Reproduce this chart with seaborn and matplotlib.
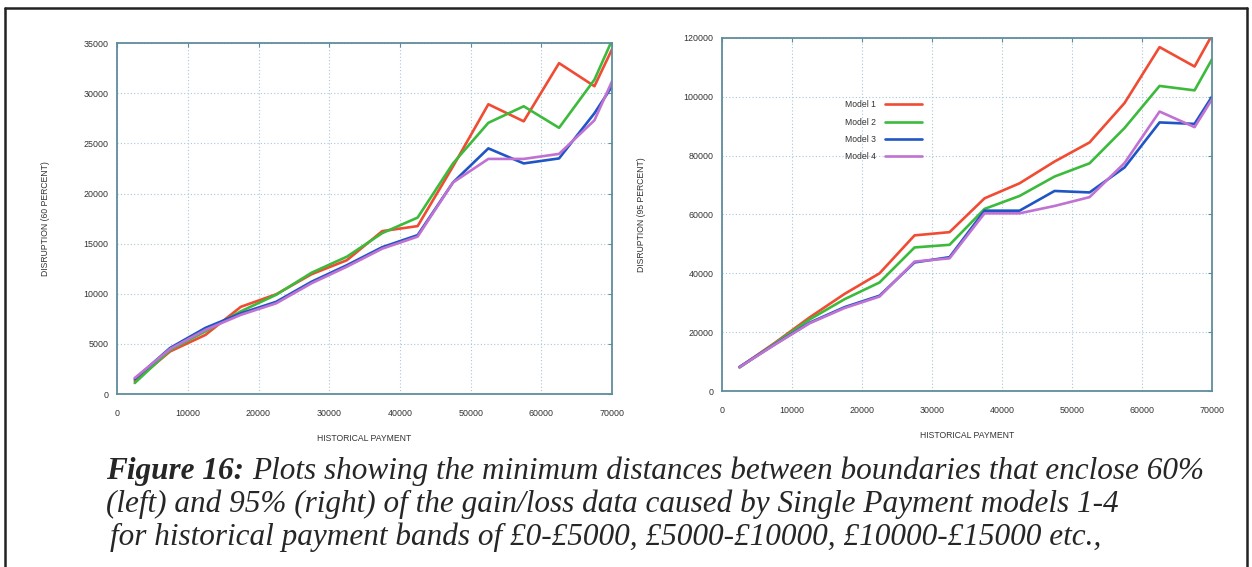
import numpy as np
import pandas as pd
import seaborn as sns
import matplotlib.pyplot as plt
from matplotlib.lines import Line2D

# historical payment band midpoints (last point sits on the right border)
payment = [2500, 7500, 12500, 17500, 22500, 27500, 32500, 37500,
           42500, 47500, 52500, 57500, 62500, 67500, 70000]
models = ["Model 1", "Model 2", "Model 3", "Model 4"]

# 60 percent disruption (left panel)
left_m1 = [1300, 4250, 5900, 8700, 9950, 11950, 13350, 16250,
           16750, 22700, 28900, 27200, 33000, 30700, 34400]
left_m2 = [1100, 4400, 6250, 8250, 9900, 12100, 13700, 16050,
           17600, 23000, 27050, 28700, 26550, 31350, 35300]
left_m3 = [1500, 4600, 6600, 8050, 9200, 11200, 12850, 14650,
           15850, 21100, 24500, 23000, 23500, 28000, 30700]
left_m4 = [1600, 4500, 6400, 7900, 9050, 11050, 12700, 14500,
           15700, 21100, 23450, 23450, 23950, 27300, 31200]

# 95 percent disruption (right panel)
right_m1 = [8100, 16300, 25000, 33000, 40000, 52900, 54000, 65500,
            70600, 78000, 84500, 97900, 116900, 110300, 121000]
right_m2 = [8000, 16100, 24300, 31200, 36900, 48800, 49700, 61900,
            66300, 72900, 77400, 89400, 103700, 102200, 112800]
right_m3 = [8200, 15800, 23200, 28500, 32400, 43700, 45500, 61300,
            61300, 68000, 67500, 76000, 91300, 90800, 100100]
right_m4 = [8100, 15700, 23000, 28200, 32100, 44000, 45100, 60400,
            60400, 62900, 65900, 77500, 95000, 89700, 99200]

palette = {"Model 1": "#f04b33", "Model 2": "#3cba3c",
           "Model 3": "#1f55c4", "Model 4": "#c072d2"}


def to_long(series):
    rows = []
    for name, vals in zip(models, series):
        for x, y in zip(payment, vals):
            rows.append({"payment": x, "value": y, "model": name})
    return pd.DataFrame(rows)


df_left = to_long([left_m1, left_m2, left_m3, left_m4])
df_right = to_long([right_m1, right_m2, right_m3, right_m4])

sns.set_style("white")
plt.rcParams["font.family"] = ["Liberation Sans", "DejaVu Sans"]

fig = plt.figure(figsize=(12.52, 5.67), dpi=100)
ax1 = fig.add_axes([0.0935, 0.305, 0.3954, 0.619])
ax2 = fig.add_axes([0.5767, 0.3104, 0.3914, 0.6226])

spine_col = "#5f8d9c"
tick_col = "#333333"


def style_axis(ax, ymax, ystep, ylabel, ylabel_x):
    ax.set_xlim(0, 70000)
    ax.set_ylim(0, ymax)
    ax.set_xticks(np.arange(0, 70001, 10000))
    ax.set_yticks(np.arange(0, ymax + 1, ystep))
    ax.grid(True, linestyle=(0, (1, 2)), color="#a9c7d6", linewidth=0.8)
    for sp in ax.spines.values():
        sp.set_color(spine_col)
        sp.set_linewidth(1.3)
    ax.tick_params(direction="in", length=3, color=spine_col, labelsize=6.4,
                   labelcolor=tick_col, top=True, right=True)
    ax.tick_params(axis="x", pad=11)
    ax.tick_params(axis="y", pad=6)
    ax.set_xlabel("HISTORICAL PAYMENT", fontsize=6.2, color=tick_col, labelpad=11)
    ax.set_ylabel("")
    fig.text(ylabel_x, (ax.get_position().y0 + ax.get_position().y1) / 2,
             ylabel, rotation=90, fontsize=6.2, color=tick_col,
             ha="center", va="center")


sns.lineplot(data=df_left, x="payment", y="value", hue="model",
             palette=palette, linewidth=1.9, ax=ax1, legend=False)
style_axis(ax1, 35000, 5000, "DISRUPTION (60 PERCENT)", 0.036)

sns.lineplot(data=df_right, x="payment", y="value", hue="model",
             palette=palette, linewidth=1.9, ax=ax2)
style_axis(ax2, 120000, 20000, "DISRUPTION (95 PERCENT)", 0.512)
leg = ax2.legend(loc="upper left", bbox_to_anchor=(0.235, 0.845), frameon=False,
                 markerfirst=False, fontsize=6.2, handlelength=4.4,
                 labelspacing=0.95, handletextpad=1.0)
for t in leg.get_texts():
    t.set_color(tick_col)
for h in leg.get_lines():
    h.set_linewidth(1.9)

# outer frame of the figure box (open at the bottom)
for xs, ys in [([0.004, 0.004], [0.0, 0.986]),
               ([0.004, 0.996], [0.986, 0.986]),
               ([0.996, 0.996], [0.0, 0.986])]:
    fig.add_artist(Line2D(xs, ys, color="#222222", linewidth=1.8,
                          transform=fig.transFigure))

cap_font = ["Liberation Serif", "DejaVu Serif"]
cap_size = 22.5
head = fig.text(0.085, 0.155, "Figure 16:", fontsize=cap_size, style="italic",
                weight="bold", family=cap_font, va="baseline")
fig.canvas.draw()
bb = head.get_window_extent().transformed(fig.transFigure.inverted())
fig.text(bb.x1 + 0.006, 0.155,
         "Plots showing the minimum distances between boundaries that enclose 60%",
         fontsize=cap_size, style="italic", family=cap_font, va="baseline")
fig.text(0.085, 0.097,
         "(left) and 95% (right) of the gain/loss data caused by Single Payment models 1-4",
         fontsize=cap_size, style="italic", family=cap_font, va="baseline")
fig.text(0.088, 0.039,
         "for historical payment bands of \u00a30-\u00a35000, \u00a35000-\u00a310000, "
         "\u00a310000-\u00a315000 etc.,",
         fontsize=cap_size, style="italic", family=cap_font, va="baseline")

fig.savefig("out.png", dpi=100)
